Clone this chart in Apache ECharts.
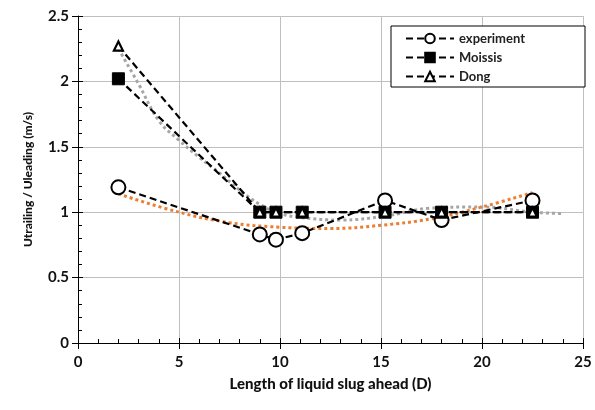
<!DOCTYPE html>
<html>
<head>
<meta charset="utf-8">
<script src="https://cdn.jsdelivr.net/npm/echarts@6/dist/echarts.min.js"></script>
<style>
  html, body { margin: 0; padding: 0; background: #fff; }
  #chart { width: 595px; height: 410px; }
</style>
</head>
<body>
<div id="chart"></div>
<script>
// Slug length ahead of the bubble (pipe diameters)
const slugLength = [2, 9, 9.8, 11.1, 15.2, 18, 22.5];
// Velocity ratio U_trailing / U_leading
const experiment = [1.19, 0.83, 0.79, 0.84, 1.09, 0.94, 1.09];
const moissis    = [2.02, 1.0, 1.0, 1.0, 1.0, 1.0, 1.0];
const dong       = [2.27, 1.0, 1.0, 1.0, 1.0, 1.0, 1.0];

// Trend curves (x, y)
const trendModelX = [2, 3, 4, 5, 6, 7, 8, 9, 10, 11, 13, 15.2, 17.4, 20, 22.5, 24];
const trendModelY = [2.25, 1.98, 1.7, 1.55, 1.42, 1.3, 1.17, 1.06, 0.99, 0.96, 0.94, 0.97, 1.03, 1.04, 1.0, 0.99];
const trendExpX = [2, 5, 7.5, 10, 12.5, 15, 17.5, 20, 22.5];
const trendExpY = [1.14, 1.0, 0.92, 0.885, 0.875, 0.9, 0.95, 1.04, 1.15];

const xTicks = { min: 0, max: 25, interval: 5 };
const yTicks = { min: 0, max: 2.5, interval: 0.5 };

const pairs = (xs, ys) => xs.map((x, i) => [x, ys[i]]);
const FONT = 'Lato';

const dashed = { color: '#000', width: 2.2, type: [7, 4] };

const chart = echarts.init(document.getElementById('chart'), null, { renderer: 'canvas' });

const baseX = {
  type: 'value', min: xTicks.min, max: xTicks.max, interval: xTicks.interval
};
const baseY = {
  type: 'value', min: yTicks.min, max: yTicks.max, interval: yTicks.interval
};

chart.setOption({
  animation: false,
  backgroundColor: '#fff',
  grid: { left: 78, right: 12, top: 16, bottom: 67 },
  legend: {
    orient: 'vertical',
    left: 391, top: 26,
    width: 166,
    itemWidth: 48, itemHeight: 12, itemGap: 6,
    padding: [6, 60, 4, 14],
    borderColor: '#000', borderWidth: 1,
    backgroundColor: '#fff',
    textStyle: { fontFamily: FONT, fontWeight: 'bold', fontSize: 13, color: '#222' },
    data: ['experiment', 'Moissis', 'Dong']
  },
  xAxis: [
    Object.assign({}, baseX, {
      name: 'Length of liquid slug ahead (D)',
      nameLocation: 'middle', nameGap: 34,
      nameTextStyle: { fontFamily: FONT, fontWeight: 900, fontSize: 15, color: '#111' },
      axisLine: { lineStyle: { color: '#000', width: 1 } },
      axisTick: { show: true, inside: false, length: 6, lineStyle: { color: '#000' } },
      axisLabel: { fontFamily: FONT, fontWeight: 'bold', fontSize: 15, color: '#111', margin: 12 },
      splitLine: { show: true, lineStyle: { color: '#bfbfbf', width: 1 } }
    }),
    Object.assign({}, baseX, {
      position: 'bottom',
      axisLine: { show: false },
      axisTick: { show: true, inside: true, length: 5, lineStyle: { color: '#000' } },
      minorTick: { show: true, splitNumber: 5, length: 4, lineStyle: { color: '#000' } },
      axisLabel: { show: false },
      splitLine: { show: false }
    })
  ],
  yAxis: [
    Object.assign({}, baseY, {
      name: 'Utrailing / Uleading (m/s)',
      nameLocation: 'middle', nameGap: 44,
      nameTextStyle: { fontFamily: FONT, fontWeight: 900, fontSize: 12, color: '#111' },
      axisLine: { show: true, lineStyle: { color: '#000', width: 1 } },
      axisTick: { show: true, inside: false, length: 6, lineStyle: { color: '#000' } },
      axisLabel: { fontFamily: FONT, fontWeight: 'bold', fontSize: 15, color: '#111', margin: 9 },
      splitLine: { show: true, lineStyle: { color: '#bfbfbf', width: 1 } }
    }),
    Object.assign({}, baseY, {
      position: 'left',
      axisLine: { show: false },
      axisTick: { show: true, inside: true, length: 5, lineStyle: { color: '#000' } },
      minorTick: { show: true, splitNumber: 5, length: 4, lineStyle: { color: '#000' } },
      axisLabel: { show: false },
      splitLine: { show: false }
    })
  ],
  series: [
    {
      name: 'trend-model', type: 'line', smooth: 0.4, symbol: 'none', z: 3,
      data: pairs(trendModelX, trendModelY),
      lineStyle: { color: '#a6a6a6', width: 3, type: [3, 3] },
      silent: true
    },
    {
      name: 'trend-exp', type: 'line', smooth: 0.4, symbol: 'none', z: 3,
      data: pairs(trendExpX, trendExpY),
      lineStyle: { color: '#ed7d31', width: 3, type: [3, 3] },
      silent: true
    },
    {
      name: 'experiment', type: 'line', z: 4,
      data: pairs(slugLength, experiment),
      symbol: 'circle', symbolSize: 14,
      itemStyle: { color: '#fff', borderColor: '#000', borderWidth: 2 },
      lineStyle: dashed
    },
    {
      name: 'Moissis', type: 'line', z: 5,
      data: pairs(slugLength, moissis),
      symbol: 'rect', symbolSize: 12,
      itemStyle: { color: '#000', borderColor: '#000', borderWidth: 1 },
      lineStyle: dashed
    },
    {
      name: 'Dong', type: 'line', z: 6,
      data: pairs(slugLength, dong),
      symbol: 'triangle', symbolSize: [9, 9],
      itemStyle: { color: '#fff', borderColor: '#000', borderWidth: 2.2 },
      lineStyle: dashed
    }
  ]
});
</script>
</body>
</html>
